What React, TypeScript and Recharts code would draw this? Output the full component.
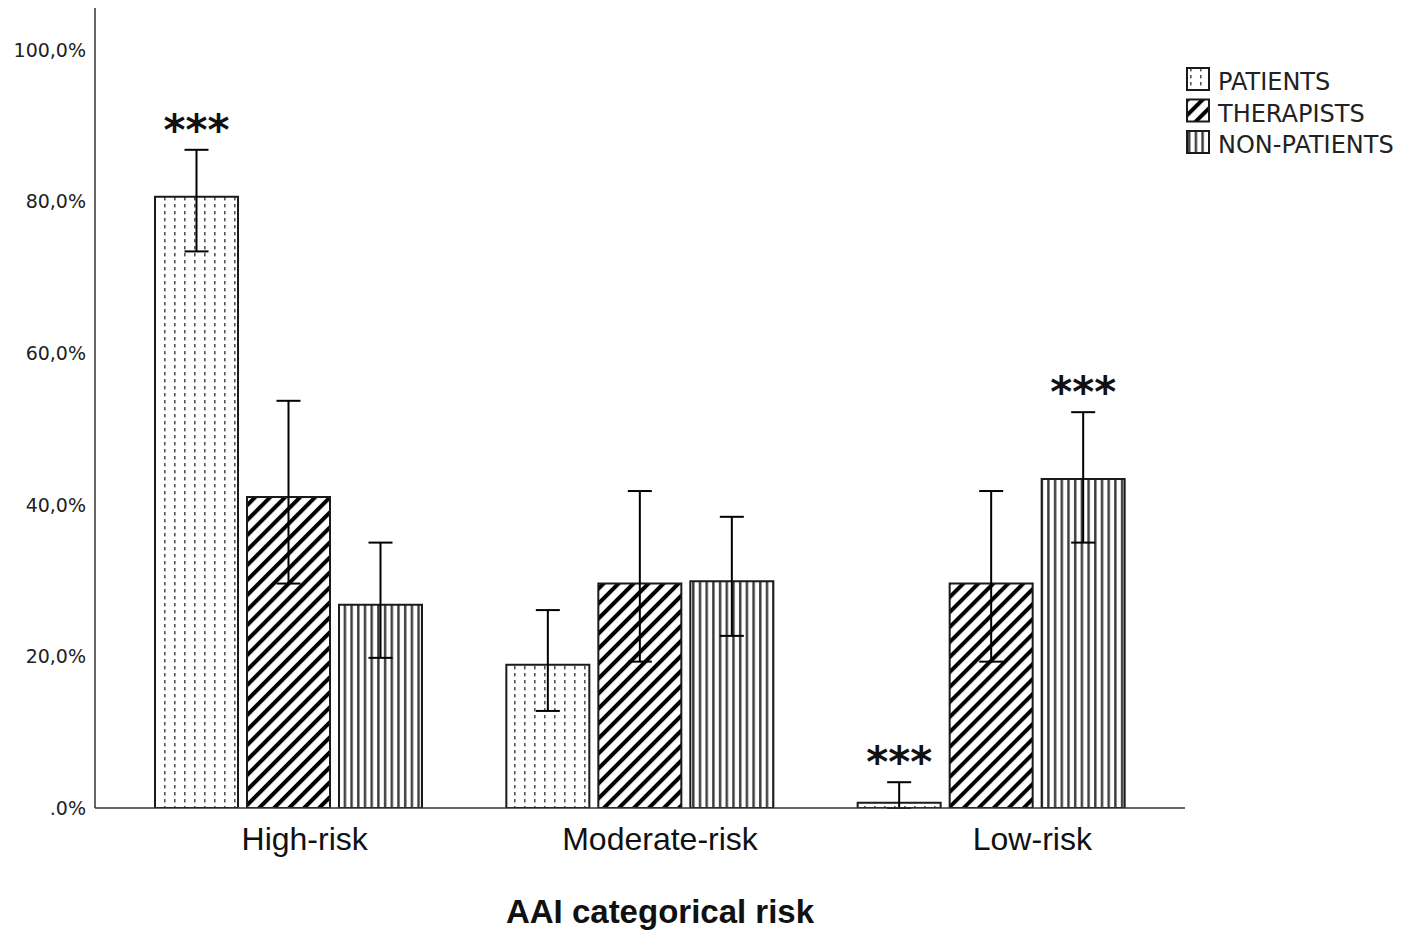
import React from 'react';
import { BarChart, Bar, XAxis, YAxis, ErrorBar, LabelList, Legend, Label } from 'recharts';

// ---------- data ----------
const CATEGORIES = ['High-risk', 'Moderate-risk', 'Low-risk'];
const SERIES_NAMES = ['PATIENTS', 'THERAPISTS', 'NON-PATIENTS'];

const PATIENTS = [80.6, 18.9, 0.7];
const PATIENTS_LO = [73.4, 12.8, 0.0];
const PATIENTS_HI = [86.8, 26.1, 3.4];
const PATIENTS_SIG = ['***', '', '***'];

const THERAPISTS = [41.0, 29.6, 29.6];
const THERAPISTS_LO = [29.6, 19.3, 19.3];
const THERAPISTS_HI = [53.7, 41.8, 41.8];
const THERAPISTS_SIG = ['', '', ''];

const NONPATIENTS = [26.8, 29.9, 43.4];
const NONPATIENTS_LO = [19.8, 22.7, 35.0];
const NONPATIENTS_HI = [35.0, 38.4, 52.2];
const NONPATIENTS_SIG = ['', '', '***'];

const Y_TICKS = [0, 20, 40, 60, 80, 100];
const Y_TICK_LABELS = ['.0%', '20,0%', '40,0%', '60,0%', '80,0%', '100,0%'];

const X_TITLE = 'AAI categorical risk';

// ---------- styles ----------
const TICK_DX = [16, 20, 41];
const PATTERN_IDS = ['pat-patients', 'pat-therapists', 'pat-nonpatients'];
const INK = '#1a1a1a';

const data = CATEGORIES.map((c, i) => ({
  category: c,
  patients: PATIENTS[i],
  patientsErr: [PATIENTS[i] - PATIENTS_LO[i], PATIENTS_HI[i] - PATIENTS[i]],
  patientsSig: PATIENTS_SIG[i],
  therapists: THERAPISTS[i],
  therapistsErr: [THERAPISTS[i] - THERAPISTS_LO[i], THERAPISTS_HI[i] - THERAPISTS[i]],
  therapistsSig: THERAPISTS_SIG[i],
  nonpatients: NONPATIENTS[i],
  nonpatientsErr: [NONPATIENTS[i] - NONPATIENTS_LO[i], NONPATIENTS_HI[i] - NONPATIENTS[i]],
  nonpatientsSig: NONPATIENTS_SIG[i],
}));

const makeStar = (vals: number[], his: number[]) => (props: any) => {
  const { index, value } = props;
  if (!value) return null;
  const vb = props.viewBox ?? {};
  const x = Number(props.x ?? vb.x);
  const y = Number(props.y ?? vb.y);
  const w = Number(props.width ?? vb.width);
  const h = Number(props.height ?? vb.height);
  const base = y + h;
  const ppu = h / vals[index];
  const errY = base - his[index] * ppu;
  return (
    <text
      x={x + w / 2}
      y={errY - 5}
      textAnchor="middle"
      fontFamily="DejaVu Sans"
      fontWeight="bold"
      fontSize={42}
      fill="#111"
    >
      {value}
    </text>
  );
};

const XTick = (props: any) => {
  const { x, y, payload, index } = props;
  return (
    <text
      x={x + (TICK_DX[index] ?? 0)}
      y={y + 42}
      textAnchor="middle"
      fontFamily="Liberation Sans, Arial, sans-serif"
      fontSize={32}
      fill="#111"
    >
      {payload.value}
    </text>
  );
};

const YTick = (props: any) => {
  const { x, y, payload } = props;
  const idx = Y_TICKS.indexOf(payload.value);
  return (
    <text
      x={x}
      y={y}
      dy="0.36em"
      textAnchor="end"
      fontFamily="DejaVu Sans"
      fontSize={19}
      fill="#222"
    >
      {Y_TICK_LABELS[idx] ?? payload.value}
    </text>
  );
};

const LegendContent = () => (
  <svg width={231} height={100} style={{ display: 'block' }}>
    {SERIES_NAMES.map((name, i) => (
      <g key={name} transform={`translate(0, ${i * 31.5})`}>
        <rect x={1} y={1} width={22} height={22} fill={`url(#${PATTERN_IDS[i]})`} stroke={INK} strokeWidth={2} />
        <text x={32} y={23} fontFamily="DejaVu Sans" fontSize={24} fill="#222">
          {name}
        </text>
      </g>
    ))}
  </svg>
);

const TitleLabel = (p: any) => {
  const vb = p.viewBox;
  return (
    <text
      x={vb.x + vb.width / 2 + 20}
      y={vb.y + 115}
      textAnchor="middle"
      fontFamily="Liberation Sans, Arial, sans-serif"
      fontWeight="bold"
      fontSize={33}
      fill="#111"
    >
      {X_TITLE}
    </text>
  );
};

export default function App() {
  return (
    <div style={{ position: 'absolute', left: 0, top: 0, width: 1418, height: 943, background: '#fff' }}>
      <BarChart
        width={1418}
        height={943}
        data={data}
        margin={{ top: 8, right: 233, bottom: 0, left: 0 }}
        barCategoryGap={42}
        barGap={9}
      >
        <defs>
          <pattern id="pat-patients" patternUnits="userSpaceOnUse" width={10} height={7}>
            <rect width={10} height={7} fill="#fff" />
            <rect x={4} y={1} width={1.6} height={3.4} fill="#555" />
          </pattern>
          <pattern
            id="pat-therapists"
            patternUnits="userSpaceOnUse"
            width={10.6}
            height={10}
            patternTransform="rotate(45)"
          >
            <rect width={10.6} height={10} fill="#fff" />
            <rect x={0} y={0} width={4} height={10} fill="#000" />
          </pattern>
          <pattern id="pat-nonpatients" patternUnits="userSpaceOnUse" width={6.7} height={10}>
            <rect width={6.7} height={10} fill="#fff" />
            <rect x={2} y={0} width={2.4} height={10} fill="#3a3a3a" />
          </pattern>
        </defs>
        <XAxis
          dataKey="category"
          height={135}
          tickLine={false}
          tickSize={0}
          tickMargin={0}
          axisLine={{ stroke: '#333', strokeWidth: 1.5 }}
          padding={{ left: 18, right: 18 }}
          tick={<XTick />}
          interval={0}
        >
          <Label content={<TitleLabel />} />
        </XAxis>
        <YAxis
          width={95}
          domain={[0, 105.5]}
          ticks={Y_TICKS}
          tickLine={false}
          tickSize={0}
          tickMargin={9}
          axisLine={{ stroke: '#333', strokeWidth: 1.5 }}
          tick={<YTick />}
          allowDataOverflow
        />
        <Legend
          layout="vertical"
          align="center"
          verticalAlign="middle"
          content={<LegendContent />}
          wrapperStyle={{ left: 1186, top: 67, width: 231 }}
        />
        <Bar dataKey="patients" name={SERIES_NAMES[0]} fill="url(#pat-patients)" stroke={INK} strokeWidth={2} isAnimationActive={false}>
          <ErrorBar dataKey="patientsErr" width={12} stroke="#000" strokeWidth={2} isAnimationActive={false} />
          <LabelList dataKey="patientsSig" content={makeStar(PATIENTS, PATIENTS_HI)} />
        </Bar>
        <Bar dataKey="therapists" name={SERIES_NAMES[1]} fill="url(#pat-therapists)" stroke={INK} strokeWidth={2} isAnimationActive={false}>
          <ErrorBar dataKey="therapistsErr" width={12} stroke="#000" strokeWidth={2} isAnimationActive={false} />
          <LabelList dataKey="therapistsSig" content={makeStar(THERAPISTS, THERAPISTS_HI)} />
        </Bar>
        <Bar dataKey="nonpatients" name={SERIES_NAMES[2]} fill="url(#pat-nonpatients)" stroke={INK} strokeWidth={2} isAnimationActive={false}>
          <ErrorBar dataKey="nonpatientsErr" width={12} stroke="#000" strokeWidth={2} isAnimationActive={false} />
          <LabelList dataKey="nonpatientsSig" content={makeStar(NONPATIENTS, NONPATIENTS_HI)} />
        </Bar>
      </BarChart>
    </div>
  );
}
